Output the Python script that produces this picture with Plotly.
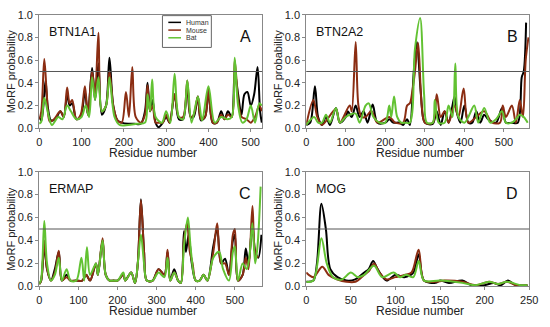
import plotly.graph_objects as go

# ---------------- data (knots) ----------------
series_names = ["Human", "Mouse", "Bat"]
panel_titles = ["BTN1A1", "BTN2A2", "ERMAP", "MOG"]
panel_letters = ["A", "B", "C", "D"]

# Panel A: BTN1A1
a_human_x = [0,5,10,15,20,28,38,50,58,66,72,78,88,98,108,115,125,132,140,148,158,166,175,185,195,210,225,240,250,256,262,268,275,282,292,300,308,320,330,340,350,358,365,375,382,392,400,410,420,430,438,446,455,462,470,478,485,492,500,508,516,522,526]
a_human_y = [0.1,0.07,0.2,0.42,0.2,0.07,0.08,0.15,0.1,0.3,0.2,0.22,0.08,0.1,0.32,0.12,0.53,0.25,0.57,0.12,0.2,0.62,0.2,0.07,0.05,0.04,0.04,0.04,0.15,0.4,0.15,0.25,0.05,0.01,0.05,0.1,0.05,0.3,0.08,0.08,0.38,0.1,0.1,0.28,0.07,0.1,0.33,0.05,0.05,0.15,0.08,0.15,0.1,0.5,0.3,0.12,0.3,0.32,0.2,0.3,0.54,0.15,0.05]
a_mouse_x = [0,5,12,18,25,35,50,58,66,72,78,88,98,108,115,125,132,140,148,158,166,175,185,195,205,212,220,228,240,250,256,262,268,275,282,292,300,308,320,330,340,350,358,365,375,382,392,400,410,420,430,438,446,455,462,470,478,490,500,510,520,526]
a_mouse_y = [0.08,0.15,0.61,0.3,0.06,0.08,0.15,0.1,0.36,0.22,0.25,0.08,0.12,0.37,0.12,0.5,0.3,0.84,0.15,0.2,0.5,0.2,0.07,0.05,0.32,0.1,0.54,0.1,0.05,0.12,0.38,0.15,0.2,0.05,0.05,0.05,0.12,0.05,0.3,0.1,0.1,0.42,0.1,0.12,0.28,0.08,0.1,0.35,0.05,0.05,0.12,0.08,0.12,0.1,0.6,0.25,0.1,0.08,0.05,0.1,0.2,0.15]
a_bat_x = [0,5,12,20,30,45,55,66,75,88,100,110,118,125,132,140,148,158,166,178,190,210,230,250,256,262,267,275,290,300,310,320,330,340,350,360,375,385,400,415,430,445,455,462,470,480,490,500,510,520,526]
a_bat_y = [0.04,0.06,0.27,0.15,0.03,0.1,0.08,0.2,0.15,0.08,0.1,0.2,0.1,0.45,0.25,0.45,0.15,0.2,0.45,0.1,0.03,0.03,0.04,0.05,0.3,0.15,0.43,0.1,0.05,0.15,0.05,0.48,0.1,0.08,0.42,0.05,0.28,0.07,0.37,0.05,0.1,0.08,0.1,0.62,0.2,0.05,0.08,0.2,0.05,0.22,0.2]

# Panel B: BTN2A2
b_human_x = [0,10,22,30,40,50,60,75,85,100,105,115,125,135,145,155,168,180,200,210,220,235,245,255,262,272,280,290,300,320,330,340,350,360,375,380,390,400,410,420,430,440,450,460,480,495,505,520,535,545,550,556]
b_human_y = [0.03,0.05,0.37,0.1,0.03,0.1,0.03,0.18,0.05,0.1,0.15,0.1,0.2,0.1,0.15,0.05,0.21,0.05,0.05,0.08,0.05,0.05,0.03,0.08,0.03,0.5,0.76,0.3,0.05,0.04,0.15,0.03,0.15,0.05,0.28,0.15,0.05,0.2,0.05,0.05,0.15,0.05,0.12,0.08,0.05,0.18,0.05,0.05,0.05,0.45,0.5,0.93]
b_mouse_x = [0,18,28,40,75,85,110,115,125,132,140,150,165,180,210,225,245,255,262,268,275,283,292,300,320,330,340,350,360,375,385,398,410,430,450,470,490,497,505,520,530,540,548,555,562]
b_mouse_y = [0.03,0.25,0.1,0.03,0.17,0.05,0.2,0.15,0.76,0.2,0.1,0.1,0.15,0.05,0.1,0.05,0.05,0.2,0.22,0.32,0.5,0.75,0.2,0.05,0.05,0.3,0.1,0.15,0.05,0.2,0.1,0.35,0.05,0.1,0.15,0.05,0.05,0.2,0.1,0.2,0.05,0.25,0.1,0.6,0.8]
b_bat_x = [0,20,30,40,50,60,75,85,100,110,125,135,150,158,170,185,200,210,215,222,230,240,250,262,275,288,298,305,320,325,335,350,360,370,377,385,400,410,425,435,450,465,480,495,505,520,530,540,550,560]
b_bat_y = [0.03,0.1,0.05,0.05,0.12,0.05,0.18,0.05,0.1,0.12,0.13,0.05,0.2,0.22,0.1,0.05,0.05,0.2,0.1,0.28,0.1,0.05,0.05,0.05,0.7,0.97,0.3,0.05,0.05,0.25,0.05,0.05,0.2,0.1,0.57,0.1,0.05,0.1,0.2,0.05,0.18,0.05,0.08,0.15,0.05,0.05,0.08,0.12,0.1,0.05]

# Panel C: ERMAP
c_human_x = [0,5,13,20,30,40,50,58,70,80,95,110,120,130,145,150,162,170,180,190,200,215,220,235,245,252,260,268,275,290,305,320,328,335,345,355,362,370,375,382,390,400,410,420,430,445,455,465,475,485,495,500,508,520,528,535,545,552,560,568]
c_human_y = [0.02,0.05,0.35,0.15,0.05,0.15,0.3,0.05,0.1,0.05,0.05,0.05,0.1,0.05,0.2,0.1,0.4,0.1,0.05,0.05,0.05,0.1,0.05,0.12,0.03,0.2,0.76,0.3,0.05,0.05,0.15,0.1,0.3,0.05,0.15,0.05,0.03,0.48,0.3,0.45,0.2,0.05,0.05,0.1,0.05,0.35,0.5,0.2,0.24,0.1,0.4,0.45,0.05,0.1,0.33,0.2,0.55,0.3,0.25,0.45]
c_mouse_x = [0,5,13,20,30,40,50,58,70,80,95,110,120,130,145,150,162,170,180,190,200,215,220,235,245,252,260,268,275,290,305,320,328,335,345,355,362,370,378,385,392,400,410,420,430,445,455,465,475,485,495,500,508,520,528,535,545,552,560]
c_mouse_y = [0.02,0.05,0.4,0.15,0.05,0.12,0.31,0.05,0.08,0.05,0.05,0.05,0.1,0.05,0.2,0.1,0.42,0.1,0.05,0.05,0.05,0.1,0.05,0.12,0.03,0.2,0.75,0.3,0.05,0.05,0.15,0.1,0.32,0.05,0.12,0.05,0.03,0.4,0.55,0.3,0.2,0.05,0.05,0.1,0.05,0.3,0.55,0.2,0.2,0.1,0.45,0.5,0.05,0.1,0.25,0.15,0.7,0.3,0.25]
c_bat_x = [0,5,13,20,30,40,50,58,70,80,95,108,115,122,130,145,150,162,170,180,190,200,215,220,235,245,252,260,268,275,290,305,320,328,335,345,355,362,370,380,388,400,410,420,430,445,460,470,485,495,500,508,520,530,537,545,552,558,566]
c_bat_y = [0.02,0.06,0.57,0.2,0.05,0.1,0.25,0.05,0.15,0.05,0.05,0.25,0.05,0.34,0.1,0.2,0.1,0.4,0.1,0.05,0.05,0.05,0.12,0.05,0.12,0.03,0.2,0.45,0.2,0.05,0.05,0.12,0.08,0.25,0.05,0.12,0.05,0.03,0.35,0.6,0.3,0.05,0.05,0.1,0.05,0.25,0.3,0.15,0.05,0.3,0.35,0.05,0.2,0.15,0.25,0.55,0.2,0.35,0.87]

# Panel D: MOG
d_human_x = [0,8,12,17,22,27,35,45,55,65,70,75,80,90,100,110,120,126,132,145,150,160,175,185,200,210,218,226,235,248]
d_human_y = [0.04,0.05,0.2,0.72,0.5,0.15,0.08,0.05,0.06,0.12,0.15,0.22,0.15,0.05,0.1,0.08,0.12,0.28,0.05,0.03,0.05,0.03,0.05,0.01,0.01,0.03,0.01,0.05,0.01,0.01]
d_mouse_x = [0,8,18,25,35,45,55,65,70,76,82,90,100,110,118,126,132,145,155,175,190,205,215,225,235,248]
d_mouse_y = [0.12,0.08,0.17,0.1,0.06,0.04,0.04,0.1,0.13,0.2,0.12,0.06,0.08,0.1,0.12,0.32,0.05,0.04,0.05,0.04,0.01,0.04,0.02,0.04,0.01,0.01]
d_bat_x = [0,8,17,23,30,40,50,58,65,76,85,98,105,112,120,126,132,150,175,190,205,215,225,240,248]
d_bat_y = [0.04,0.05,0.42,0.2,0.08,0.06,0.12,0.08,0.1,0.18,0.08,0.12,0.08,0.1,0.08,0.22,0.05,0.05,0.03,0.01,0.04,0.02,0.04,0.01,0.01]

x_ranges = [527, 564, 570, 250]
x_dticks = [100, 100, 100, 50]
threshold = 0.5
x_title = "Residue number"
y_title = "MoRF probability"

# ---------------- styling ----------------
colors = {"Human": "#000000", "Mouse": "#8b2d12", "Bat": "#62c232"}
FONT = "Liberation Sans, Arial, sans-serif"
W, H = 550, 327

# panel boxes in pixels: (left, right, top, bottom)
boxes = [(37, 265, 9, 127), (310, 538, 9, 127), (37, 265, 172, 291), (310, 538, 172, 291)]

panels = [
    (a_human_x, a_human_y, a_mouse_x, a_mouse_y, a_bat_x, a_bat_y),
    (b_human_x, b_human_y, b_mouse_x, b_mouse_y, b_bat_x, b_bat_y),
    (c_human_x, c_human_y, c_mouse_x, c_mouse_y, c_bat_x, c_bat_y),
    (d_human_x, d_human_y, d_mouse_x, d_mouse_y, d_bat_x, d_bat_y),
]

fig = go.Figure()
layout = dict(
    width=W, height=H, margin=dict(l=0, r=0, t=0, b=0),
    paper_bgcolor="white", plot_bgcolor="white",
    font=dict(family=FONT, color="#222"),
    showlegend=False,
)
annotations = []
shapes = []

for i, (box, data) in enumerate(zip(boxes, panels)):
    l, r, t, b = box
    xa = "xaxis" if i == 0 else f"xaxis{i+1}"
    ya = "yaxis" if i == 0 else f"yaxis{i+1}"
    xref = "x" if i == 0 else f"x{i+1}"
    yref = "y" if i == 0 else f"y{i+1}"
    common = dict(showgrid=False, zeroline=False, showline=True, linecolor="#888",
                  linewidth=1, mirror=True, ticks="outside", ticklen=3,
                  tickcolor="#888", tickfont=dict(size=11, family=FONT, color="#222"))
    layout[xa] = dict(domain=[l / W, r / W], range=[0, x_ranges[i]], dtick=x_dticks[i],
                      tick0=0, anchor=yref, **common)
    layout[ya] = dict(domain=[1 - b / H, 1 - t / H], range=[0, 1], dtick=0.2, tickformat=".1f",
                      anchor=xref, **common)
    hx, hy, mx, my, bx, by = data
    for name, xs, ys in (("Human", hx, hy), ("Mouse", mx, my), ("Bat", bx, by)):
        fig.add_trace(go.Scatter(
            x=xs, y=ys, mode="lines", name=name, showlegend=False, hoverinfo="skip",
            line=dict(color=colors[name], width=2, shape="spline", smoothing=0.9),
            xaxis=xref, yaxis=yref, cliponaxis=True))
    shapes.append(dict(type="line", xref=f"{xref} domain", yref=yref, x0=0, x1=1,
                       y0=threshold, y1=threshold, line=dict(color="#555", width=1)))
    annotations.append(dict(text=panel_titles[i], xref=f"{xref} domain", yref=f"{yref} domain",
                            x=0.035, y=0.93, xanchor="left", yanchor="top", showarrow=False,
                            font=dict(size=12.5, family=FONT, color="#111")))
    annotations.append(dict(text=panel_letters[i], xref=f"{xref} domain", yref=f"{yref} domain",
                            x=0.96, y=0.9, xanchor="right", yanchor="top", showarrow=False,
                            font=dict(size=16, family=FONT, color="#111")))
    # axis titles
    annotations.append(dict(text=x_title, xref="paper", yref="paper",
                            x=((l + r) / 2 + 2) / W, y=1 - (b + 26) / H,
                            xanchor="center", yanchor="middle", showarrow=False,
                            font=dict(size=12, family=FONT, color="#222")))
    annotations.append(dict(text=y_title, xref="paper", yref="paper", textangle=-90,
                            x=(l - 29) / W, y=1 - ((t + b) / 2) / H,
                            xanchor="center", yanchor="middle", showarrow=False,
                            font=dict(size=11, family=FONT, color="#222")))

# compact legend box (panel A), drawn in paper coordinates
lg_left, lg_right, lg_top, lg_bottom = 163, 213, 10, 43
shapes.append(dict(type="rect", xref="paper", yref="paper",
                   x0=lg_left / W, x1=lg_right / W, y0=1 - lg_bottom / H, y1=1 - lg_top / H,
                   line=dict(color="#666", width=1), fillcolor="white", layer="above"))
for k, name in enumerate(series_names):
    yy = 1 - (17 + 8 * k) / H
    shapes.append(dict(type="line", xref="paper", yref="paper",
                       x0=(lg_left + 6) / W, x1=(lg_left + 19) / W, y0=yy, y1=yy,
                       line=dict(color=colors[name], width=1.5), layer="above"))
    annotations.append(dict(text=name, xref="paper", yref="paper", x=(lg_left + 22) / W, y=yy,
                            xanchor="left", yanchor="middle", showarrow=False,
                            font=dict(size=7, family=FONT, color="#333")))

layout["annotations"] = annotations
layout["shapes"] = shapes
fig.update_layout(**layout)
fig.write_html("out.html", config={"displayModeBar": False},
               post_script="document.body.style.margin='0';document.body.style.overflow='hidden';")
